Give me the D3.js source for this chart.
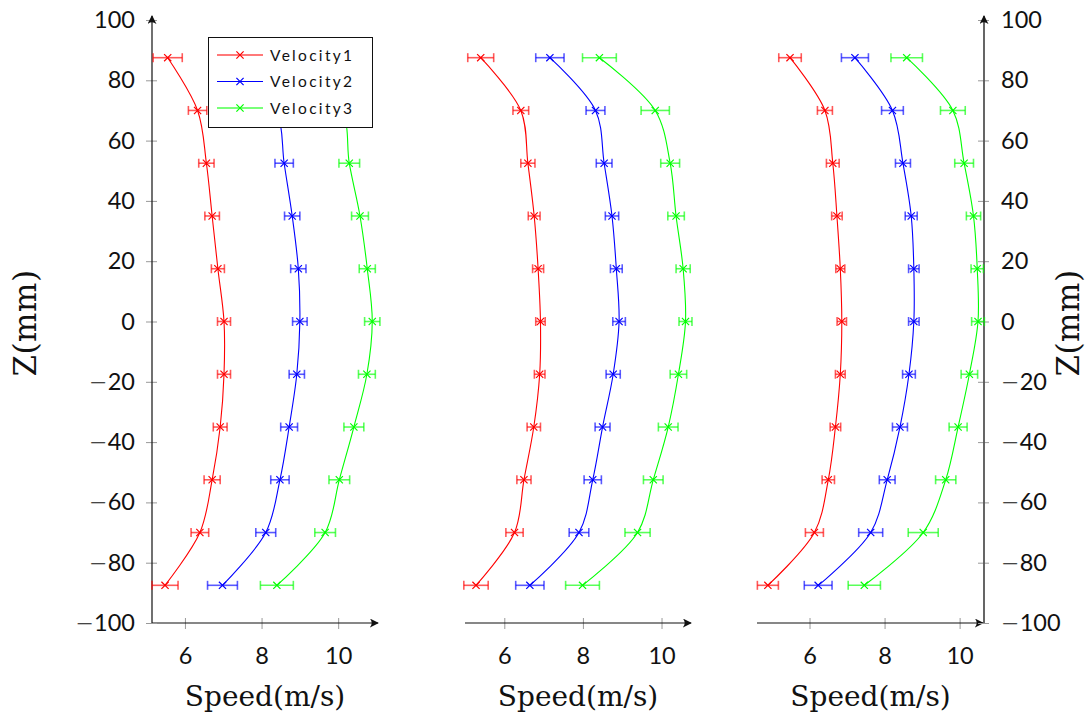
<!DOCTYPE html>
<html>
<head>
<meta charset="utf-8">
<script src="https://cdn.jsdelivr.net/npm/d3@7"></script>
<style>
  html, body { margin: 0; padding: 0; background: #fff; }
  svg { display: block; font-family: Lato, "Open Sans", sans-serif; }
  text { fill: #111; }
</style>
</head>
<body>
<svg id="chart" width="1087" height="717"></svg>
<script>
// ---------- data ----------
const zPositions = [87.5, 70, 52.5, 35, 17.5, 0, -17.5, -35, -52.5, -70, -87.5];
const seriesNames = ["Velocity1", "Velocity2", "Velocity3"];
const seriesColors = ["#ff0000", "#0000ff", "#00ff00"];
const xTickValues = [6, 8, 10];
const yTickValues = [-100, -80, -60, -40, -20, 0, 20, 40, 60, 80, 100];

// panel 1
const p1Velocity1 = [5.55, 6.33, 6.56, 6.71, 6.86, 7.02, 7.02, 6.92, 6.71, 6.39, 5.48];
const p1Velocity1Err = [0.38, 0.24, 0.20, 0.19, 0.17, 0.17, 0.17, 0.18, 0.21, 0.23, 0.34];
const p1Velocity2 = [7.40, 8.40, 8.59, 8.80, 8.96, 9.00, 8.92, 8.72, 8.48, 8.11, 6.98];
const p1Velocity2Err = [0.36, 0.26, 0.24, 0.20, 0.20, 0.19, 0.20, 0.22, 0.24, 0.26, 0.39];
const p1Velocity3 = [8.80, 10.10, 10.29, 10.57, 10.76, 10.89, 10.75, 10.41, 10.03, 9.66, 8.40];
const p1Velocity3Err = [0.43, 0.33, 0.27, 0.22, 0.21, 0.20, 0.22, 0.26, 0.27, 0.27, 0.43];

// panel 2
const p2Velocity1 = [5.40, 6.42, 6.60, 6.76, 6.86, 6.92, 6.90, 6.75, 6.50, 6.26, 5.28];
const p2Velocity1Err = [0.33, 0.20, 0.18, 0.15, 0.14, 0.12, 0.135, 0.17, 0.18, 0.22, 0.31];
const p2Velocity2 = [7.16, 8.32, 8.54, 8.74, 8.85, 8.92, 8.77, 8.50, 8.25, 7.90, 6.65];
const p2Velocity2Err = [0.36, 0.24, 0.20, 0.17, 0.15, 0.16, 0.18, 0.19, 0.22, 0.25, 0.36];
const p2Velocity3 = [8.42, 9.84, 10.22, 10.37, 10.55, 10.61, 10.43, 10.17, 9.79, 9.39, 7.99];
const p2Velocity3Err = [0.43, 0.36, 0.24, 0.21, 0.18, 0.165, 0.21, 0.25, 0.25, 0.32, 0.43];

// panel 3
const p3Velocity1 = [5.48, 6.41, 6.62, 6.73, 6.82, 6.86, 6.82, 6.69, 6.50, 6.13, 4.89];
const p3Velocity1Err = [0.30, 0.20, 0.17, 0.14, 0.12, 0.125, 0.13, 0.14, 0.165, 0.24, 0.28];
const p3Velocity2 = [7.21, 8.21, 8.49, 8.71, 8.78, 8.78, 8.65, 8.41, 8.07, 7.63, 6.23];
const p3Velocity2Err = [0.36, 0.29, 0.20, 0.16, 0.14, 0.14, 0.17, 0.20, 0.21, 0.32, 0.37];
const p3Velocity3 = [8.59, 9.82, 10.12, 10.37, 10.47, 10.49, 10.26, 9.96, 9.63, 9.03, 7.46];
const p3Velocity3Err = [0.42, 0.33, 0.25, 0.19, 0.165, 0.17, 0.22, 0.24, 0.27, 0.40, 0.43];

const xDomains = [[5.14, 11.04], [5.0, 10.75], [4.6, 10.65]];

// ---------- layout ----------
const panels = [
  { x0: 152, x1: 378, yAxis: "left",  values: [p1Velocity1, p1Velocity2, p1Velocity3], errs: [p1Velocity1Err, p1Velocity2Err, p1Velocity3Err], legend: true },
  { x0: 465, x1: 691, yAxis: "none",  values: [p2Velocity1, p2Velocity2, p2Velocity3], errs: [p2Velocity1Err, p2Velocity2Err, p2Velocity3Err] },
  { x0: 757, x1: 984, yAxis: "right", values: [p3Velocity1, p3Velocity2, p3Velocity3], errs: [p3Velocity1Err, p3Velocity2Err, p3Velocity3Err] }
];
const yTop = 20, yBottom = 623;
const tickFont = 23.5;
const labelFont = "'DejaVu Serif', serif";

const svg = d3.select("#chart");
const defs = svg.append("defs");
defs.append("marker").attr("id", "arrow").attr("viewBox", "0 0 10 10")
  .attr("refX", 9).attr("refY", 5).attr("markerWidth", 9).attr("markerHeight", 9)
  .attr("markerUnits", "userSpaceOnUse").attr("orient", "auto")
  .append("path").attr("d", "M0,0 Q4,5 0,10 L10,5 Z").attr("fill", "#111");

const y = d3.scaleLinear().domain([-100, 100]).range([yBottom, yTop]);

function writeTick(sel, d) {
  sel.text(null);
  if (d < 0) {
    sel.append("tspan").style("font-family", "'DejaVu Sans', sans-serif").style("font-weight", 300)
      .style("font-size", (tickFont * 0.95) + "px").text("\u2212");
    sel.append("tspan").text(String(Math.abs(d)));
  } else {
    sel.append("tspan").text(String(d));
  }
}

panels.forEach((p, pi) => {
  const x = d3.scaleLinear().domain(xDomains[pi]).range([p.x0, p.x1]);
  const g = svg.append("g");

  // x axis
  const xAxis = d3.axisBottom(x).tickValues(xTickValues).tickSize(0).tickPadding(24)
    .tickFormat(d3.format("d"));
  const gx = g.append("g").attr("transform", `translate(0,${yBottom})`).call(xAxis);
  gx.select(".domain").remove();
  gx.selectAll(".tick text").style("font-size", tickFont + "px").style("font-family", "Lato").attr("fill", "#111");
  gx.selectAll(".tick").append("line").attr("y1", -5).attr("y2", 6).attr("stroke", "#999").attr("stroke-width", 1);
  g.append("line").attr("x1", p.x0).attr("x2", p.x1 + (pi === 2 ? -1 : 0)).attr("y1", yBottom).attr("y2", yBottom)
    .attr("stroke", "#111").attr("stroke-width", 1.2).attr("marker-end", "url(#arrow)");

  g.append("text").attr("x", (p.x0 + p.x1) / 2).attr("y", 706).attr("text-anchor", "middle")
    .style("font-family", labelFont).style("font-size", "28px").text("Speed(m/s)");

  // y axis
  if (p.yAxis !== "none") {
    const left = p.yAxis === "left";
    const ax = left ? p.x0 : p.x1;
    const yAxis = (left ? d3.axisLeft(y) : d3.axisRight(y)).tickValues(yTickValues).tickSize(0)
      .tickPadding(17);
    const gy = g.append("g").attr("transform", `translate(${ax},0)`).call(yAxis);
    gy.select(".domain").remove();
    gy.selectAll(".tick text").style("font-size", tickFont + "px").style("font-family", "Lato").attr("fill", "#111")
      .each(function(d) { writeTick(d3.select(this), d); });
    gy.selectAll(".tick").append("line").attr("x1", -6).attr("x2", 5).attr("stroke", "#999").attr("stroke-width", 1);
    g.append("line").attr("x1", ax).attr("x2", ax).attr("y1", yBottom).attr("y2", yTop - 4)
      .attr("stroke", left ? "#111" : "#555").attr("stroke-width", left ? 1.2 : 1.8).attr("marker-end", "url(#arrow)");
    const lx = left ? 27 : 1070;
    g.append("text").attr("transform", `translate(${lx},323) rotate(-90)`)
      .attr("text-anchor", "middle").attr("dominant-baseline", "middle")
      .style("font-family", labelFont).style("font-size", "31px").style("letter-spacing", "0.5px").text("Z(mm)");
  }

  // series
  const line = d3.line().curve(d3.curveCatmullRom.alpha(0.5));
  p.values.forEach((vals, si) => {
    const color = seriesColors[si];
    const errs = p.errs[si];
    const pts = vals.map((v, i) => [x(v), y(zPositions[i])]);
    const sg = g.append("g");
    sg.append("path").attr("d", line(pts)).attr("fill", "none").attr("stroke", color).attr("stroke-width", 1.1);
    // error bars
    vals.forEach((v, i) => {
      const yy = y(zPositions[i]);
      const xa = x(v - errs[i]), xb = x(v + errs[i]);
      const eg = sg.append("g").attr("stroke", color).attr("stroke-width", 1.6).attr("stroke-opacity", 0.65);
      eg.append("line").attr("x1", xa).attr("x2", xb).attr("y1", yy).attr("y2", yy);
      eg.append("line").attr("x1", xa).attr("x2", xa).attr("y1", yy - 4.5).attr("y2", yy + 4.5);
      eg.append("line").attr("x1", xb).attr("x2", xb).attr("y1", yy - 4.5).attr("y2", yy + 4.5);
    });
    // markers
    pts.forEach(([px, py]) => {
      const s = 3.6;
      sg.append("path").attr("d", `M${px - s},${py - s}L${px + s},${py + s}M${px - s},${py + s}L${px + s},${py - s}`)
        .attr("stroke", color).attr("stroke-width", 1.2).attr("fill", "none");
    });
  });

  // legend
  if (p.legend) {
    const lg = g.append("g");
    lg.append("rect").attr("x", 208.5).attr("y", 37.5).attr("width", 164).attr("height", 90)
      .attr("fill", "#fff").attr("stroke", "#111").attr("stroke-width", 1);
    seriesNames.forEach((name, si) => {
      const ly = 55 + si * 26.5;
      lg.append("line").attr("x1", 217).attr("x2", 263).attr("y1", ly).attr("y2", ly)
        .attr("stroke", seriesColors[si]).attr("stroke-width", si === 1 ? 1.1 : 1.5)
        .attr("stroke-opacity", si === 1 ? 1 : 0.7);
      const s = 3.6, cx = 240;
      lg.append("path").attr("d", `M${cx - s},${ly - s}L${cx + s},${ly + s}M${cx - s},${ly + s}L${cx + s},${ly - s}`)
        .attr("stroke", seriesColors[si]).attr("stroke-width", 1.2);
      lg.append("text").attr("x", 270).attr("y", ly + 5.5).style("font-size", "15.5px")
        .style("letter-spacing", "2.3px").text(name);
    });
  }
});
</script>
</body>
</html>
